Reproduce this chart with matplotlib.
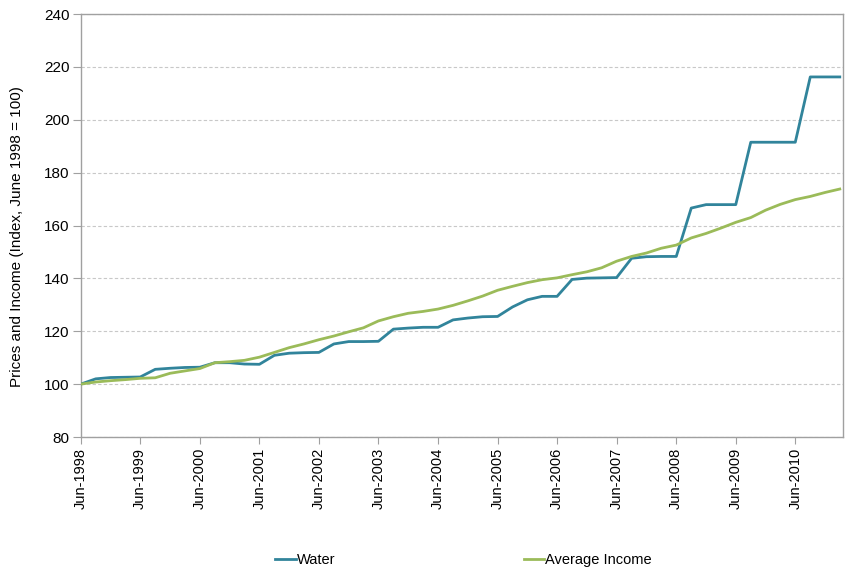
import numpy as np
import pandas as pd
import matplotlib
matplotlib.use("Agg")
import matplotlib.pyplot as plt
from matplotlib import font_manager

# quarterly observations, Jun-1998 .. Mar-2011
dates = pd.date_range("1998-06-01", periods=52, freq="3MS")

water = [100, 102.0, 102.5, 102.6, 102.7, 105.6, 106.0, 106.3,
         106.4, 108.1, 108.1, 107.6, 107.5, 110.9, 111.7, 111.9,
         112.0, 115.2, 116.1, 116.1, 116.2, 120.8, 121.2, 121.5,
         121.5, 124.3, 125.0, 125.5, 125.6, 129.2, 131.9, 133.2,
         133.2, 139.6, 140.1, 140.2, 140.3, 147.6, 148.2, 148.3,
         148.3, 166.6, 167.9, 167.9, 167.9, 191.5, 191.5, 191.5,
         191.5, 216.2, 216.2, 216.2]

income = [100, 100.8, 101.3, 101.7, 102.2, 102.4, 104.1, 105.0,
          105.9, 108.1, 108.5, 109.0, 110.2, 112.0, 113.8, 115.2,
          116.8, 118.2, 119.8, 121.3, 123.9, 125.5, 126.8, 127.5,
          128.4, 129.8, 131.5, 133.3, 135.5, 137.0, 138.4, 139.5,
          140.2, 141.4, 142.5, 144.0, 146.5, 148.3, 149.6, 151.4,
          152.6, 155.3, 157.0, 159.0, 161.2, 163.0, 165.8, 168.0,
          169.8, 171.0, 172.5, 173.8]

tick_years = list(range(1998, 2011))

names = {f.name for f in font_manager.fontManager.ttflist}
narrow = "Liberation Sans Narrow" if "Liberation Sans Narrow" in names else "Liberation Sans"
plt.rcParams["font.family"] = ["Liberation Sans", "DejaVu Sans"]

fig = plt.figure(figsize=(8.46, 5.72), dpi=100)
ax = fig.add_axes([0.0954, 0.236, 0.9011, 0.7395])

ax.plot(dates, water, color="#31849B", lw=2.0, label="Water", zorder=3)
ax.plot(dates, income, color="#9BBB59", lw=2.0, label="Average Income", zorder=3)

ax.set_ylim(80, 240)
ax.set_yticks(range(80, 241, 20))
ax.set_xlim(dates[0], dates[-1] + pd.Timedelta(days=20))
ticks = [pd.Timestamp(f"{y}-06-01") for y in tick_years]
ax.set_xticks(ticks)
ax.set_xticklabels([f"Jun-{y}" for y in tick_years], rotation=90, fontsize=10.5)
ax.tick_params(axis="y", labelsize=11, length=6, color="#a0a0a0", pad=2)
ax.tick_params(axis="x", length=5, color="#a0a0a0", pad=3)

ax.yaxis.grid(True, linestyle=(0, (3, 2)), color="#c8c8c8", lw=0.8)
ax.set_axisbelow(True)
for s in ax.spines.values():
    s.set_color("#a0a0a0")
    s.set_linewidth(1.0)

ax.set_ylabel("Prices and Income (Index, June 1998 = 100)", fontsize=11,
              family=[narrow, "DejaVu Sans"])
ax.yaxis.set_label_coords(-0.075, 0.473)

fig.legend(loc="center", bbox_to_anchor=(0.548, 1 - 560 / 572), ncol=2,
           frameon=False, handlelength=1.4, handletextpad=0.1,
           columnspacing=12.9, prop={"family": [narrow, "DejaVu Sans"], "size": 10.5})

fig.savefig("out.png", dpi=100)
